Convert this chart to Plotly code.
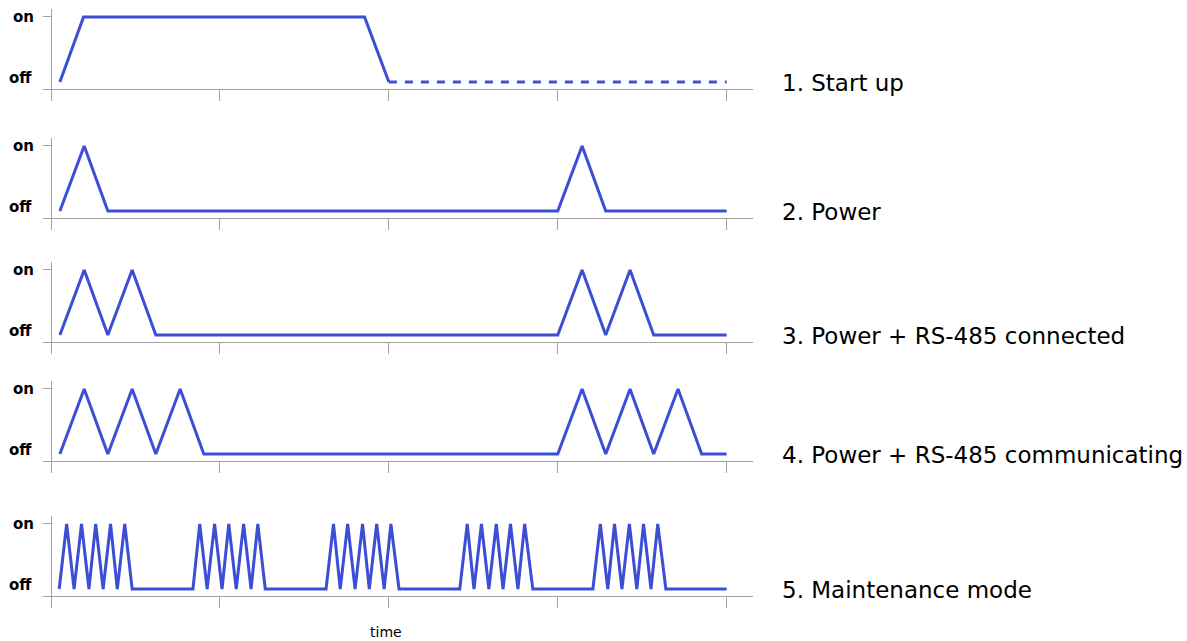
import plotly.graph_objects as go

# ---------------- data ----------------
labels = ["1. Start up", "2. Power", "3. Power + RS-485 connected",
          "4. Power + RS-485 communicating", "5. Maintenance mode"]
x_ticks = [0, 25, 50, 75, 100]
y_tick_on = [1]
y_tick_text = ["on"]

s1_x = [1.3, 4.8, 46.4, 50.0]
s1_y = [0, 1, 1, 0]
s1_dash_x = [50.0, 100.0]
s1_dash_y = [0, 0]

s2_x = [1.3, 4.9, 8.4, 75.0, 78.6, 82.1, 100.0]
s2_y = [0, 1, 0, 0, 1, 0, 0]

s3_x = [1.3, 4.9, 8.4, 12.0, 15.5, 75.0, 78.6, 82.1, 85.7, 89.2, 100.0]
s3_y = [0, 1, 0, 1, 0, 0, 1, 0, 1, 0, 0]

s4_x = [1.3, 4.9, 8.4, 12.0, 15.5, 19.1, 22.6,
        75.0, 78.6, 82.1, 85.7, 89.2, 92.8, 96.3, 100.0]
s4_y = [0, 1, 0, 1, 0, 1, 0, 0, 1, 0, 1, 0, 1, 0, 0]

s5_x = [1.2, 2.3, 3.4, 4.5, 5.6, 6.6, 7.7, 8.8, 9.8, 10.9, 12.0,
        21.0, 22.0, 23.1, 24.2, 25.3, 26.3, 27.4, 28.5, 29.6, 30.6, 31.7,
        40.7, 41.8, 42.8, 43.9, 45.0, 46.1, 47.1, 48.2, 49.3, 50.3, 51.5,
        60.5, 61.6, 62.6, 63.7, 64.8, 65.9, 66.9, 68.0, 69.1, 70.1, 71.3,
        80.2, 81.3, 82.4, 83.4, 84.5, 85.6, 86.7, 87.7, 88.8, 89.8, 91.0,
        100.0]
s5_y = [0, 1, 0, 1, 0, 1, 0, 1, 0, 1, 0,
        0, 1, 0, 1, 0, 1, 0, 1, 0, 1, 0,
        0, 1, 0, 1, 0, 1, 0, 1, 0, 1, 0,
        0, 1, 0, 1, 0, 1, 0, 1, 0, 1, 0,
        0, 1, 0, 1, 0, 1, 0, 1, 0, 1, 0,
        0]

series = [(s1_x, s1_y), (s2_x, s2_y), (s3_x, s3_y), (s4_x, s4_y), (s5_x, s5_y)]

# ---------------- style / layout ----------------
W, H = 1187, 641
LINE = "rgb(60,78,214)"
AXIS = "#a3a3a3"
FONT = "Verdana, DejaVu Sans, sans-serif"
plot_left, plot_right = 43, 753
plot_w = plot_right - plot_left
plot_tops = [9, 138, 262, 381, 516]
plot_h = 80


def px_to_paper_x(px):
    return (px - plot_left) / plot_w


fig = go.Figure()
layout = dict(
    width=W, height=H, template="none",
    margin=dict(l=plot_left, r=W - plot_right, t=0, b=0),
    paper_bgcolor="white", plot_bgcolor="white",
    showlegend=False,
)
annotations = []

for i, (xs, ys) in enumerate(series):
    n = i + 1
    xa = "x" if n == 1 else f"x{n}"
    ya = "y" if n == 1 else f"y{n}"
    fig.add_trace(go.Scatter(x=xs, y=ys, mode="lines", xaxis=xa, yaxis=ya,
                             line=dict(color=LINE, width=3), hoverinfo="skip"))
    if n == 1:
        fig.add_trace(go.Scatter(x=s1_dash_x, y=s1_dash_y, mode="lines", xaxis=xa, yaxis=ya,
                                 line=dict(color=LINE, width=3, dash="8px,8px"),
                                 hoverinfo="skip"))
    top = plot_tops[i]
    dom = [1 - (top + plot_h) / H, 1 - top / H]
    layout["xaxis" if n == 1 else f"xaxis{n}"] = dict(
        domain=[0, 1], anchor=ya, range=[-1.2, 103.9],
        showline=True, linecolor=AXIS, linewidth=1.3,
        zeroline=True, zerolinecolor=AXIS, zerolinewidth=1.3,
        showgrid=False, tickvals=x_ticks, showticklabels=False,
        ticks="outside", ticklen=11, tickcolor=AXIS, tickwidth=1.3,
        automargin=False, fixedrange=True,
    )
    layout["yaxis" if n == 1 else f"yaxis{n}"] = dict(
        domain=dom, anchor=xa, range=[-0.108, 1.123],
        showline=False, zeroline=False, showgrid=False,
        tickvals=y_tick_on, ticktext=y_tick_text,
        ticks="inside", ticklen=8, tickcolor=AXIS, tickwidth=1.3,
        ticklabelstandoff=8,
        tickfont=dict(family=FONT, size=15, color="black", weight="bold"),
        automargin=False, fixedrange=True,
    )
    annotations.append(dict(
        text="<b>off</b>", xref="paper", yref=ya, x=px_to_paper_x(34), y=0.06,
        xanchor="right", yanchor="middle", showarrow=False,
        font=dict(family=FONT, size=15, color="black")))
    annotations.append(dict(
        text=labels[i], xref="paper", yref=ya, x=px_to_paper_x(780), y=0,
        xanchor="left", yanchor="middle", yshift=-1, showarrow=False,
        font=dict(family=FONT, size=23, color="black")))

annotations.append(dict(
    text="time", xref="paper", yref="paper", x=px_to_paper_x(385.5), y=1 - 632 / H,
    xanchor="center", yanchor="middle", showarrow=False,
    font=dict(family=FONT, size=14, color="black")))

layout["annotations"] = annotations
fig.update_layout(**layout)
fig.write_html("out.html", config={"displayModeBar": False},
               post_script="document.body.style.margin='0';")
